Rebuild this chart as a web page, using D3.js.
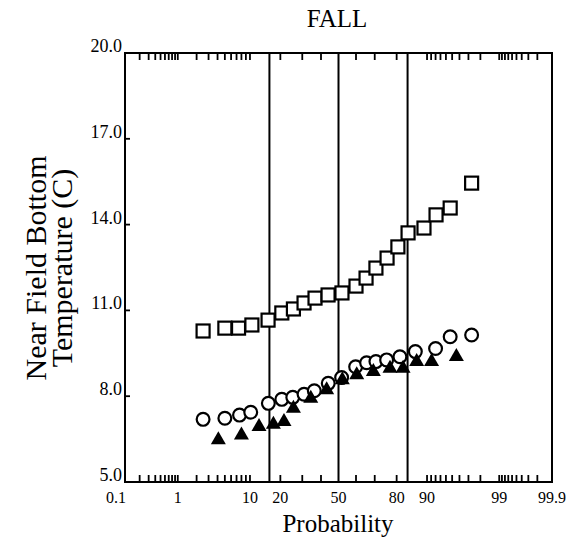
<!DOCTYPE html>
<html>
<head>
<meta charset="utf-8">
<script src="https://cdn.jsdelivr.net/npm/d3@7"></script>
<style>
  body { margin: 0; background: #fff; }
  text { font-family: "Liberation Serif", "Times New Roman", serif; fill: #000; }
</style>
</head>
<body>
<svg id="chart" width="581" height="553"></svg>
<script>
// Cumulative probability (%) and near-field bottom temperature (C), three stations
const squareProb = [2.5, 5.0, 7.4, 10.5, 15.4, 20.6, 25.7, 30.9, 36.7, 44.0, 52.0, 60.0, 65.5, 70.6, 75.9, 80.5, 84.3, 89.2, 92.1, 94.7, 97.3];
const squareTemp = [10.28, 10.38, 10.38, 10.49, 10.66, 10.91, 11.05, 11.26, 11.43, 11.54, 11.61, 11.85, 12.13, 12.48, 12.83, 13.22, 13.71, 13.88, 14.34, 14.58, 15.45];

const circleProb = [2.5, 5.0, 7.6, 10.2, 15.5, 20.6, 25.4, 30.9, 36.3, 44.1, 51.8, 59.8, 65.8, 70.6, 75.7, 81.3, 86.7, 92.0, 94.7, 97.3];
const circleTemp = [7.19, 7.23, 7.34, 7.44, 7.75, 7.89, 7.96, 8.07, 8.19, 8.45, 8.65, 9.03, 9.17, 9.21, 9.27, 9.38, 9.56, 9.67, 10.08, 10.14];

const triangleProb = [4.1, 8.0, 12.5, 17.3, 21.5, 25.7, 34.4, 43.2, 52.2, 60.4, 69.3, 77.2, 82.5, 87.1, 91.1, 95.6];
const triangleTemp = [6.53, 6.70, 6.99, 7.07, 7.17, 7.63, 7.98, 8.28, 8.63, 8.80, 8.92, 9.03, 9.03, 9.27, 9.27, 9.44];

// Axis ticks
const xLabelTicks = [0.1, 1, 10, 20, 50, 80, 90, 99, 99.9];
const xMinorTicks = [0.2, 0.3, 0.4, 0.5, 0.6, 0.7, 0.8, 0.9, 1, 2, 3, 4, 5, 6, 7, 8, 9, 10,
                     20, 30, 40, 60, 70, 80, 90, 91, 92, 93, 94, 95, 96, 97, 98, 99,
                     99.1, 99.2, 99.3, 99.4, 99.5, 99.6, 99.7, 99.8];
const sigmaLines = [15.87, 50, 84.13];
const yTicks = [5, 8, 11, 14, 17, 20];

// Inverse standard normal CDF (Acklam's rational approximation)
function probit(p) {
  const a = [-3.969683028665376e+01, 2.209460984245205e+02, -2.759285104469687e+02,
             1.383577518672690e+02, -3.066479806614716e+01, 2.506628277459239e+00];
  const b = [-5.447609879822406e+01, 1.615858368580409e+02, -1.556989798598866e+02,
             6.680131188771972e+01, -1.328068155288572e+01];
  const c = [-7.784894002430293e-03, -3.223964580411365e-01, -2.400758277161838e+00,
             -2.549671534343910e+00, 4.374664141464968e+00, 2.938163982698783e+00];
  const d = [7.784695709041462e-03, 3.224671290700398e-01, 2.445134137142996e+00,
             3.754408661907416e+00];
  const pl = 0.02425, ph = 1 - pl;
  let q, r;
  if (p < pl) {
    q = Math.sqrt(-2 * Math.log(p));
    return (((((c[0]*q+c[1])*q+c[2])*q+c[3])*q+c[4])*q+c[5]) / ((((d[0]*q+d[1])*q+d[2])*q+d[3])*q+1);
  } else if (p <= ph) {
    q = p - 0.5; r = q * q;
    return (((((a[0]*r+a[1])*r+a[2])*r+a[3])*r+a[4])*r+a[5])*q / (((((b[0]*r+b[1])*r+b[2])*r+b[3])*r+b[4])*r+1);
  } else {
    q = Math.sqrt(-2 * Math.log(1 - p));
    return -(((((c[0]*q+c[1])*q+c[2])*q+c[3])*q+c[4])*q+c[5]) / ((((d[0]*q+d[1])*q+d[2])*q+d[3])*q+1);
  }
}

const svg = d3.select("#chart");
const plotL = 125, plotR = 552, plotT = 53, plotB = 482;

// Normal-probability x scale: linear in z, fed with percentages
const zScale = d3.scaleLinear().domain([probit(0.001), probit(0.999)]).range([plotL, plotR]);
const x = p => zScale(probit(p / 100));
const y = d3.scaleLinear().domain([5, 20]).range([plotB, plotT]);

// Title
svg.append("text").attr("x", 337).attr("y", 27)
  .attr("text-anchor", "middle").attr("font-size", 25).text("FALL");

// Minor ticks on top and bottom edges
const tickLen = 7;
const tg = svg.append("g").attr("stroke", "#000").attr("stroke-width", 1.8);
tg.selectAll("line.tb").data(xMinorTicks).join("line")
  .attr("class", "tb")
  .attr("x1", d => x(d)).attr("x2", d => x(d))
  .attr("y1", plotB).attr("y2", plotB - tickLen);
tg.selectAll("line.tt").data(xMinorTicks).join("line")
  .attr("class", "tt")
  .attr("x1", d => x(d)).attr("x2", d => x(d))
  .attr("y1", plotT).attr("y2", plotT + tickLen);

// Y ticks on left edge
tg.selectAll("line.yl").data(yTicks).join("line")
  .attr("class", "yl")
  .attr("x1", plotL).attr("x2", plotL + 5)
  .attr("y1", d => y(d)).attr("y2", d => y(d));

// Vertical reference lines at mean and +/- one standard deviation
svg.append("g").selectAll("line").data(sigmaLines).join("line")
  .attr("x1", d => x(d)).attr("x2", d => x(d))
  .attr("y1", plotT).attr("y2", plotB)
  .attr("stroke", "#000").attr("stroke-width", 2);

// Frame
svg.append("rect").attr("x", plotL).attr("y", plotT)
  .attr("width", plotR - plotL).attr("height", plotB - plotT)
  .attr("fill", "none").attr("stroke", "#000").attr("stroke-width", 2);

// X tick labels
svg.append("g").selectAll("text").data(xLabelTicks).join("text")
  .attr("x", d => d === 0.1 ? x(d) + 1 : x(d))
  .attr("y", 503)
  .attr("text-anchor", d => d === 0.1 ? "end" : "middle")
  .attr("font-size", 16)
  .text(d => String(d));

// Y tick labels
svg.append("g").selectAll("text").data(yTicks).join("text")
  .attr("x", plotL - 3).attr("y", d => y(d) - 1)
  .attr("text-anchor", "end").attr("font-size", 18)
  .text(d => d3.format(".1f")(d));

// Axis titles
svg.append("text").attr("x", 338).attr("y", 532)
  .attr("text-anchor", "middle").attr("font-size", 25).text("Probability");
const yTitle = svg.append("text")
  .attr("transform", "translate(0,268) rotate(-90)")
  .attr("text-anchor", "middle").attr("font-size", 30);
yTitle.append("tspan").attr("x", 0).attr("y", 46).text("Near Field Bottom");
yTitle.append("tspan").attr("x", 0).attr("y", 72).text("Temperature (C)");

// Markers
const marks = svg.append("g");
marks.selectAll("rect.sq").data(d3.zip(squareProb, squareTemp)).join("rect")
  .attr("class", "sq")
  .attr("x", d => x(d[0]) - 6.5).attr("y", d => y(d[1]) - 6.5)
  .attr("width", 13).attr("height", 13)
  .attr("fill", "#fff").attr("stroke", "#000").attr("stroke-width", 2.2);

marks.selectAll("circle.ci").data(d3.zip(circleProb, circleTemp)).join("circle")
  .attr("class", "ci")
  .attr("cx", d => x(d[0])).attr("cy", d => y(d[1])).attr("r", 6.4)
  .attr("fill", "#fff").attr("stroke", "#000").attr("stroke-width", 2.2);

marks.selectAll("path.tr").data(d3.zip(triangleProb, triangleTemp)).join("path")
  .attr("class", "tr")
  .attr("d", d => {
    const cx = x(d[0]), cy = y(d[1]);
    return `M${cx},${cy - 7}L${cx + 7.5},${cy + 6}L${cx - 7.5},${cy + 6}Z`;
  })
  .attr("fill", "#000");
</script>
</body>
</html>
